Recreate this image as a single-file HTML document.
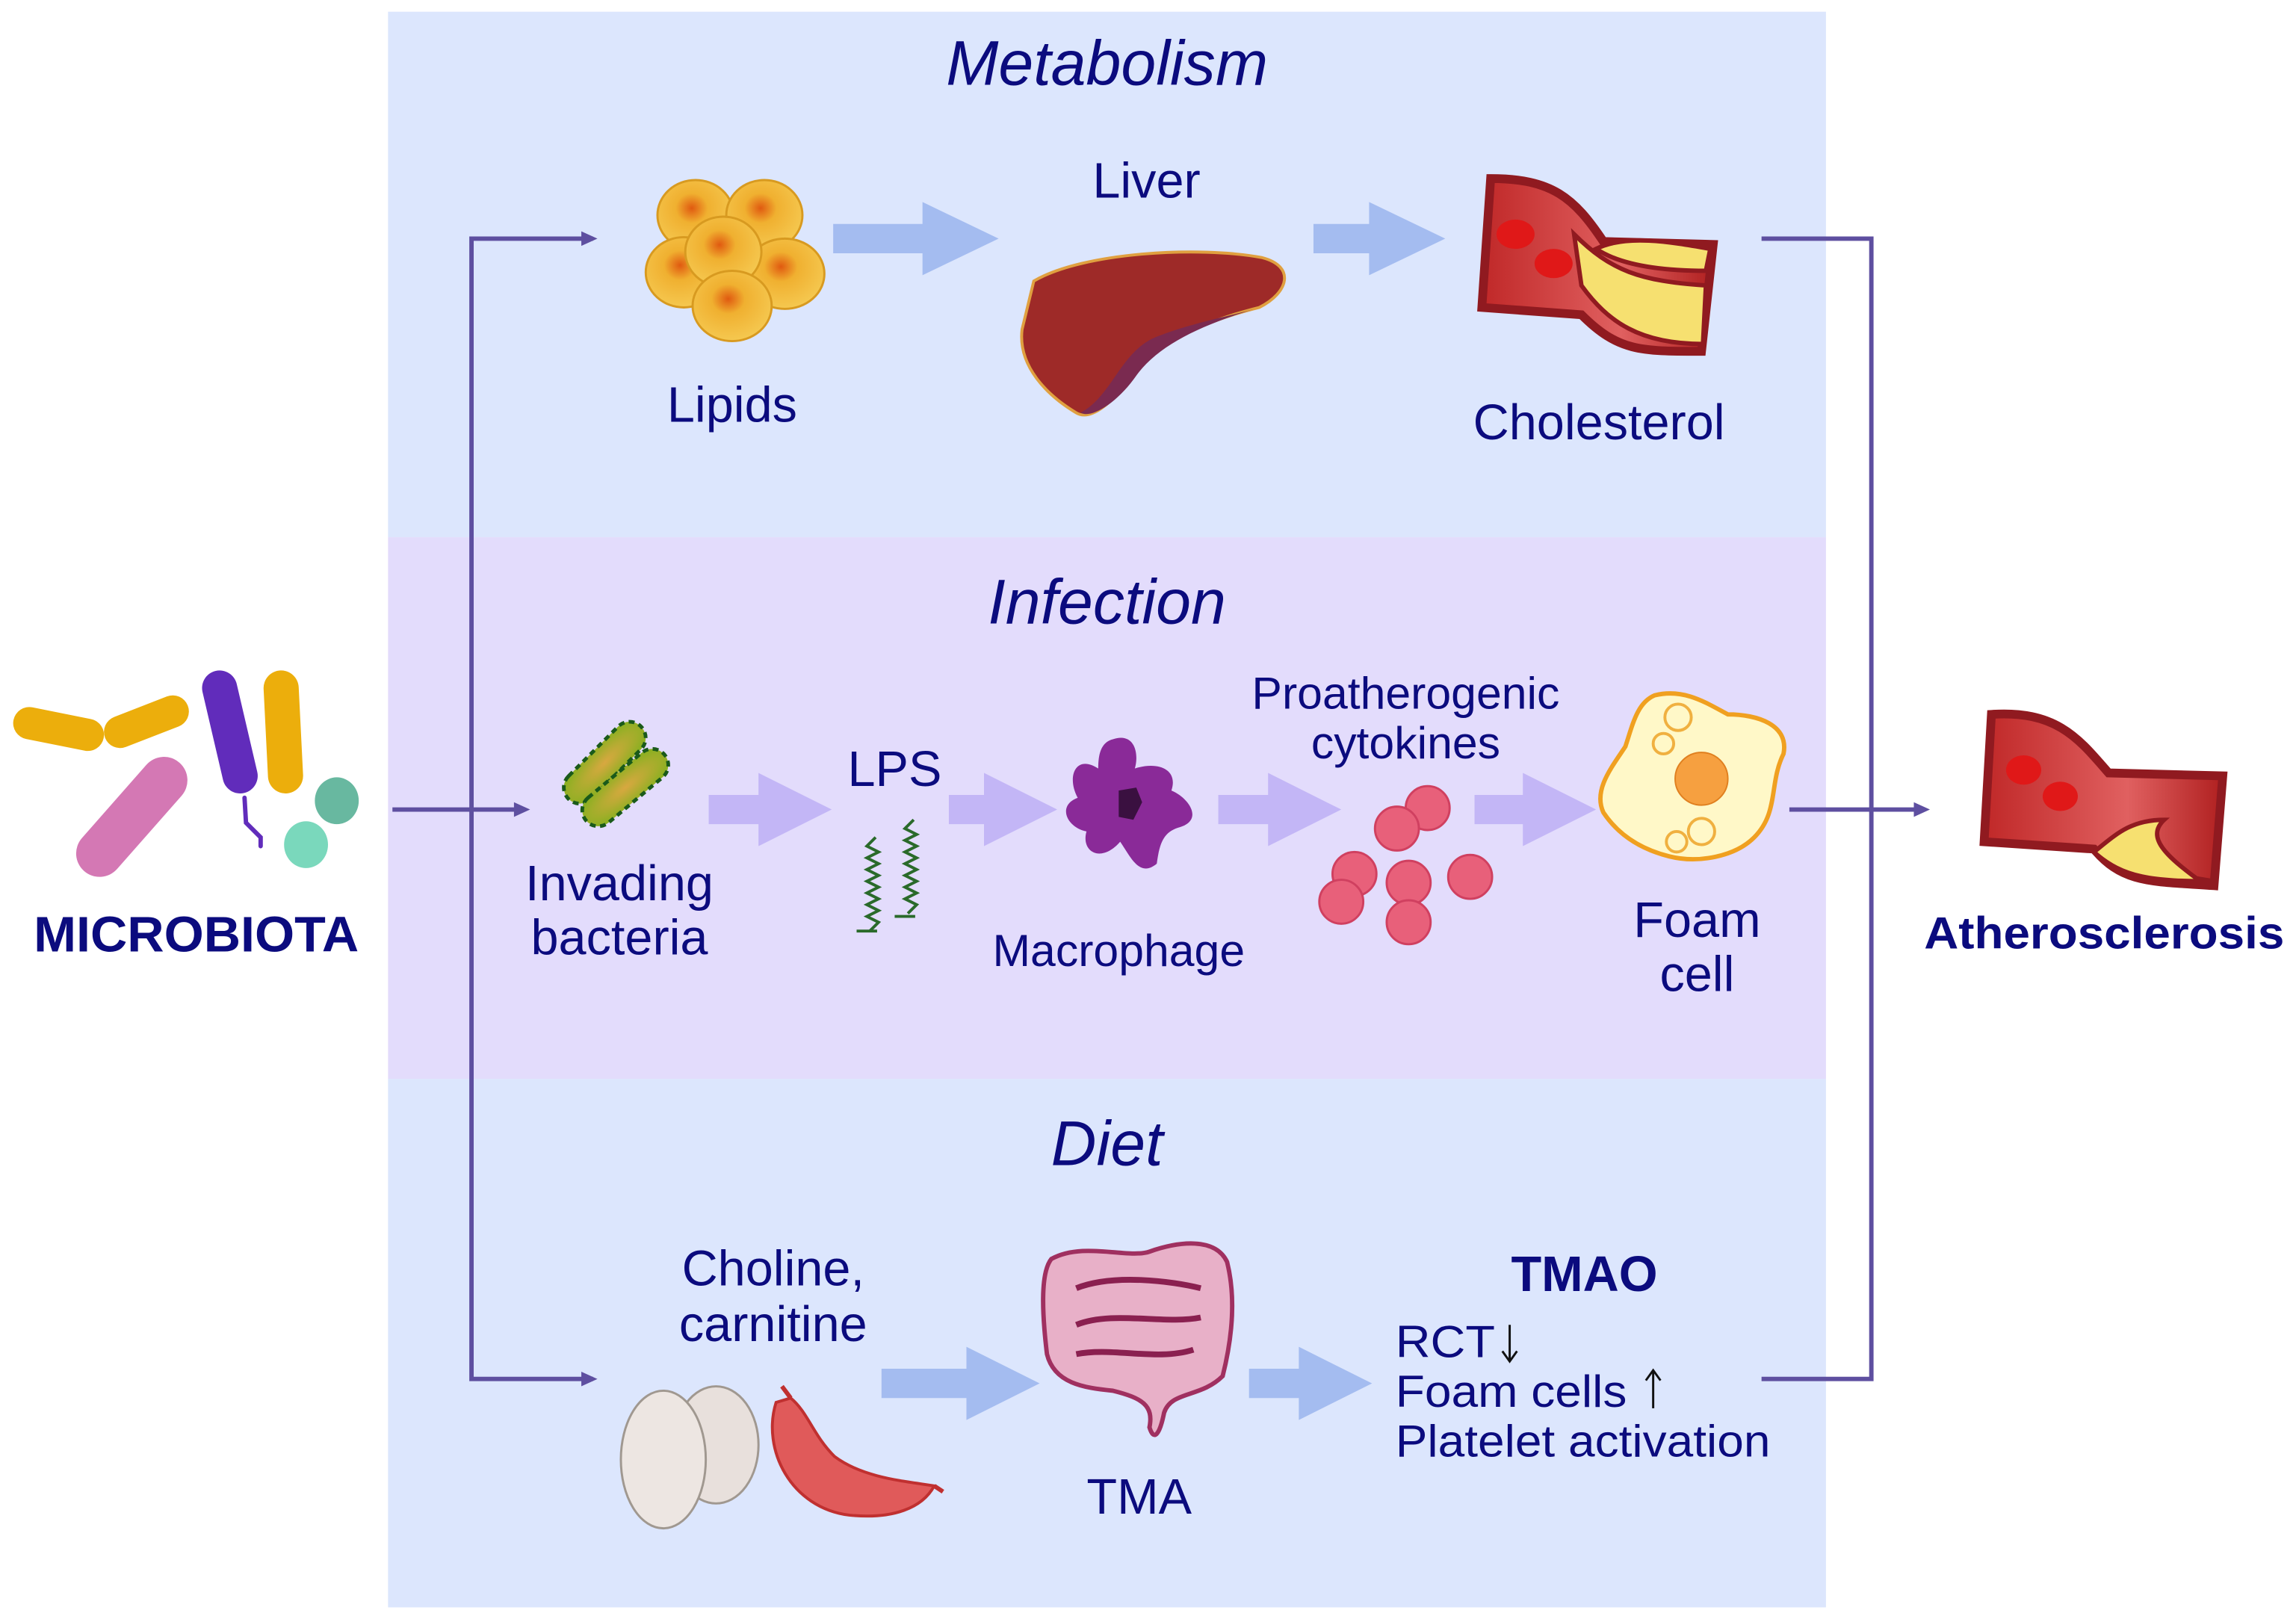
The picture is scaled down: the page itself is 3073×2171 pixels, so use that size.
<!DOCTYPE html>
<html><head><meta charset="utf-8"><style>html,body{margin:0;padding:0;background:#fff}svg{display:block}text{font-family:"Liberation Sans",Arial,sans-serif;fill:#0b0b7e}</style></head><body>
<svg width="3073" height="2171" viewBox="0 0 1568 1108" preserveAspectRatio="none" xmlns="http://www.w3.org/2000/svg">
<defs>
<radialGradient id="lip" cx="0.45" cy="0.4" r="0.6"><stop offset="0" stop-color="#e05a10"/><stop offset="0.35" stop-color="#f0b030"/><stop offset="1" stop-color="#f5c850"/></radialGradient>
<linearGradient id="ves" x1="0" y1="0" x2="1" y2="0"><stop offset="0" stop-color="#c02828"/><stop offset="0.6" stop-color="#e06060"/><stop offset="1" stop-color="#b02020"/></linearGradient>
<radialGradient id="bac" cx="0.5" cy="0.5" r="0.6"><stop offset="0" stop-color="#d8a840"/><stop offset="1" stop-color="#88b020"/></radialGradient>
</defs>
<rect x="265" y="8" width="982" height="359" fill="#dce6fd"/>
<rect x="265" y="367" width="982" height="370" fill="#e3dcfc"/>
<rect x="265" y="737" width="982" height="361" fill="#dce6fd"/>

<g stroke="#5e4fa0" stroke-width="3" fill="none">
<polyline points="405,163 322,163 322,942 405,942"/>
<line x1="268" y1="553" x2="355" y2="553"/>
<polyline points="1203,163 1278,163 1278,942 1203,942"/>
<line x1="1222" y1="553" x2="1310" y2="553"/>
</g>
<g fill="#5e4fa0">
<polygon points="408,163 397,158 397,168"/><polygon points="408,942 397,937 397,947"/>
<polygon points="362,553 351,548 351,558"/><polygon points="1318,553 1307,548 1307,558"/>
</g>

<text x="756" y="58" font-size="43" font-style="italic" text-anchor="middle">Metabolism</text>
<text x="756" y="426" font-size="43" font-style="italic" text-anchor="middle">Infection</text>
<text x="756" y="796" font-size="43" font-style="italic" text-anchor="middle">Diet</text>

<g fill="#a4bcf0">
<polygon points="569,153 630,153 630,138 682,163 630,188 630,173 569,173"/>
<polygon points="897,153 935,153 935,138 987,163 935,188 935,173 897,173"/>
<polygon points="602,935 660,935 660,920 710,945 660,970 660,955 602,955"/>
<polygon points="853,935 887,935 887,920 937,945 887,970 887,955 853,955"/>
</g>
<g fill="#c3b6f6">
<polygon points="484,543 518,543 518,528 568,553 518,578 518,563 484,563"/>
<polygon points="648,543 672,543 672,528 722,553 672,578 672,563 648,563"/>
<polygon points="832,543 866,543 866,528 916,553 866,578 866,563 832,563"/>
<polygon points="1007,543 1040,543 1040,528 1090,553 1040,578 1040,563 1007,563"/>
</g>

<g stroke="#d89a20" stroke-width="1.5" fill="url(#lip)">
<ellipse cx="475" cy="147" rx="26" ry="24"/><ellipse cx="522" cy="147" rx="26" ry="24"/>
<ellipse cx="467" cy="186" rx="26" ry="24"/><ellipse cx="536" cy="187" rx="27" ry="24"/>
<ellipse cx="494" cy="172" rx="26" ry="24"/><ellipse cx="500" cy="209" rx="27" ry="24"/>
</g>
<text x="500" y="288" font-size="34" text-anchor="middle">Lipids</text>

<text x="783" y="135" font-size="34" text-anchor="middle">Liver</text>
<path d="M706,192 C740,172 820,168 862,176 C885,182 880,200 860,210 C820,220 790,235 775,255 C760,275 745,288 735,282 C715,270 695,250 698,225 Z" fill="#9e2a28" stroke="#e0a040" stroke-width="2"/>
<path d="M860,210 C820,222 790,236 775,258 C762,276 745,286 738,282 C760,270 765,240 790,230 C815,220 845,215 860,210Z" fill="#7a2a50"/>

<g>
<path d="M1018,122 C1060,122 1075,135 1095,165 L1170,167 L1162,240 C1120,240 1105,240 1080,215 L1012,210 Z" fill="url(#ves)" stroke="#901a20" stroke-width="6"/>
<path d="M1075,160 C1100,185 1120,192 1165,195 L1163,235 C1120,235 1098,220 1080,195Z" fill="#f6e070" stroke="#901a20" stroke-width="3"/>
<path d="M1090,170 C1110,160 1140,165 1168,170 L1165,185 C1130,185 1105,180 1090,170Z" fill="#f6e070" stroke="#901a20" stroke-width="3"/>
<ellipse cx="1035" cy="160" rx="13" ry="10" fill="#e01818"/><ellipse cx="1061" cy="180" rx="13" ry="10" fill="#e01818"/>
</g>
<text x="1092" y="300" font-size="34" text-anchor="middle">Cholesterol</text>

<g stroke-linecap="round" fill="none">
<line x1="20" y1="494" x2="60" y2="502" stroke="#ecae0c" stroke-width="22"/>
<line x1="82" y1="500" x2="118" y2="486" stroke="#ecae0c" stroke-width="22"/>
<line x1="68" y1="583" x2="112" y2="533" stroke="#d478b4" stroke-width="32"/>
<line x1="150" y1="470" x2="164" y2="530" stroke="#612cbb" stroke-width="24"/>
<line x1="192" y1="470" x2="195" y2="530" stroke="#ecae0c" stroke-width="24"/>
<path d="M167,545 L168,562 L178,572 L178,578" stroke="#612cbb" stroke-width="3"/>
</g>
<ellipse cx="230" cy="547" rx="15" ry="16" fill="#68b8a0"/>
<ellipse cx="209" cy="577" rx="15" ry="16" fill="#7ad8bc"/>
<text x="134" y="650" font-size="34" font-weight="bold" text-anchor="middle" textLength="222" lengthAdjust="spacingAndGlyphs">MICROBIOTA</text>

<g fill="url(#bac)" stroke="#1a5a1a" stroke-width="2.5" stroke-dasharray="4,3">
<rect x="378" y="510" width="70" height="22" rx="11" transform="rotate(-45 413 521)"/>
<rect x="392" y="527" width="70" height="22" rx="11" transform="rotate(-40 427 538)"/>
</g>
<text x="423" y="615" font-size="34" text-anchor="middle">Invading</text>
<text x="423" y="652" font-size="34" text-anchor="middle">bacteria</text>

<text x="611" y="537" font-size="34" text-anchor="middle">LPS</text>
<g stroke="#2a6a2a" stroke-width="2" fill="none">
<path d="M598,572 l-6,6 l8,4 l-8,4 l8,4 l-8,4 l8,4 l-8,4 l8,4 l-8,4 l8,4 l-8,4 l8,4 l-8,4 l8,4 l-6,6"/>
<path d="M624,560 l-6,6 l8,4 l-8,4 l8,4 l-8,4 l8,4 l-8,4 l8,4 l-8,4 l8,4 l-8,4 l8,4 l-8,4 l8,4 l-6,6"/>
<path d="M585,636 h14 M611,626 h14"/>
</g>

<path d="M760,505 C775,500 778,515 775,525 C790,520 805,525 800,540 C812,545 822,560 806,565 C795,568 792,575 790,590 C778,600 772,585 765,575 C752,590 738,582 742,568 C728,565 722,550 736,545 C728,530 735,515 750,525 C750,515 752,507 760,505Z" fill="#8a2a98"/>
<path d="M764,540 l12,-2 l4,10 l-6,12 l-10,-2 z" fill="#3a1040"/>
<text x="764" y="660" font-size="31" text-anchor="middle">Macrophage</text>

<text x="960" y="484" font-size="31" text-anchor="middle">Proatherogenic</text>
<text x="960" y="518" font-size="31" text-anchor="middle">cytokines</text>
<g fill="#e8607a" stroke="#d04060" stroke-width="1.5">
<circle cx="975" cy="552" r="15"/><circle cx="954" cy="566" r="15"/><circle cx="925" cy="597" r="15"/>
<circle cx="962" cy="603" r="15"/><circle cx="1004" cy="599" r="15"/><circle cx="916" cy="616" r="15"/><circle cx="962" cy="630" r="15"/>
</g>

<path d="M1130,475 C1150,470 1165,480 1180,488 C1200,488 1222,495 1218,515 C1208,535 1215,555 1198,572 C1185,585 1160,590 1140,585 C1120,580 1105,570 1095,555 C1088,540 1100,525 1110,510 C1115,495 1118,480 1130,475Z" fill="#fff8c8" stroke="#f0a020" stroke-width="3"/>
<circle cx="1162" cy="532" r="18" fill="#f6a040" stroke="#e08020"/>
<g fill="#fff8c8" stroke="#f0b040" stroke-width="2"><circle cx="1146" cy="490" r="9"/><circle cx="1136" cy="508" r="7"/><circle cx="1162" cy="568" r="9"/><circle cx="1145" cy="575" r="7"/></g>
<text x="1159" y="640" font-size="34" text-anchor="middle">Foam</text>
<text x="1159" y="677" font-size="34" text-anchor="middle">cell</text>

<path d="M1360,488 C1405,485 1420,505 1440,528 L1518,530 L1512,605 C1470,602 1450,604 1430,580 L1355,575 Z" fill="url(#ves)" stroke="#901a20" stroke-width="6"/>
<path d="M1430,582 C1445,570 1455,560 1478,560 C1465,572 1480,585 1500,600 L1512,602 C1470,602 1450,600 1430,582Z" fill="#f6e070" stroke="#901a20" stroke-width="3"/>
<ellipse cx="1382" cy="526" rx="12" ry="10" fill="#e01818"/><ellipse cx="1407" cy="544" rx="12" ry="10" fill="#e01818"/>
<text x="1437" y="648" font-size="31" font-weight="bold" text-anchor="middle" textLength="246" lengthAdjust="spacingAndGlyphs">Atherosclerosis</text>

<text x="528" y="878" font-size="34" text-anchor="middle">Choline,</text>
<text x="528" y="916" font-size="34" text-anchor="middle">carnitine</text>
<ellipse cx="489" cy="987" rx="29" ry="40" fill="#e8e0dc" stroke="#a09890" stroke-width="1.5"/>
<ellipse cx="453" cy="997" rx="29" ry="47" fill="#ede6e2" stroke="#a09890" stroke-width="1.5"/>
<path d="M530,958 C520,990 540,1030 580,1035 C610,1038 630,1030 638,1015 C620,1012 590,1010 570,995 C555,980 552,965 540,955Z" fill="#e05a5a" stroke="#c03030" stroke-width="2"/>
<path d="M540,955 l-6,-8 M638,1015 l6,4" stroke="#c03030" stroke-width="3"/>

<path d="M718,860 C740,848 770,860 785,855 C805,848 830,845 838,862 C845,890 840,920 835,940 C820,955 800,950 795,965 C792,980 788,985 785,975 C788,960 780,955 760,950 C740,948 720,945 715,925 C712,900 710,870 718,860Z" fill="#e8b0c8" stroke="#a03060" stroke-width="3"/>
<path d="M735,880 C760,870 800,875 820,880 M735,905 C760,895 795,905 820,900 M735,925 C760,920 790,930 815,922" stroke="#8a2050" stroke-width="4" fill="none"/>
<text x="778" y="1034" font-size="34" text-anchor="middle">TMA</text>

<text x="1082" y="882" font-size="34" font-weight="bold" text-anchor="middle">TMAO</text>
<text x="953" y="927" font-size="31" textLength="68" lengthAdjust="spacingAndGlyphs">RCT</text>
<text x="953" y="961" font-size="31" textLength="158" lengthAdjust="spacingAndGlyphs">Foam cells</text>
<text x="953" y="995" font-size="31" textLength="256" lengthAdjust="spacingAndGlyphs">Platelet activation</text>
<g stroke="#111" stroke-width="1.5" fill="none"><line x1="1031" y1="905" x2="1031" y2="929"/><polyline points="1026,923 1031,930 1036,923"/><line x1="1129" y1="936" x2="1129" y2="962"/><polyline points="1124,943 1129,936 1134,943"/></g>
</svg>
</body></html>
